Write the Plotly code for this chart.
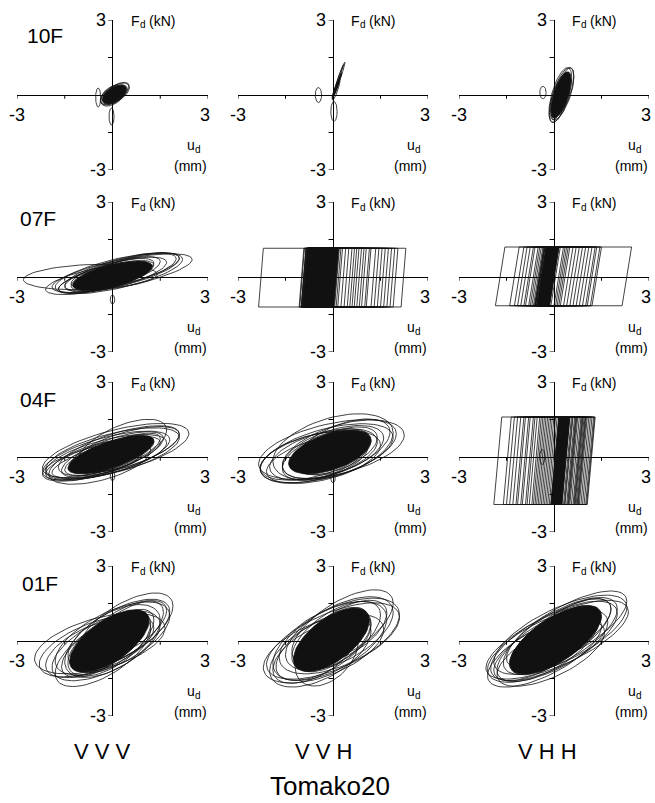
import numpy as np
import plotly.graph_objects as go

# ---------------- labels ----------------
FLOORS = ["10F", "07F", "04F", "01F"]
CASES = ["VVV", "VVH", "VHH"]
TITLE = "Tomako20"
AXIS_MAX = 3
TICK_VALS = [-3, -1.5, 1.5, 3]

# ---------------- data ----------------
# viscous-type loops: (u_center mm, u_amplitude mm, F_center kN, slope kN/mm, half_height kN)
loops_10F_VVV = [(0.08, 0.45, 0.05, 0.55, 0.35), (0.00, 0.38, -0.02, 0.50, 0.38),
                 (0.12, 0.40, 0.12, 0.60, 0.30), (0.05, 0.42, 0.00, 0.55, 0.33),
                 (-0.45, 0.08, -0.10, 0.0, 0.38), (-0.03, 0.08, -0.86, 0.0, 0.34)]
core_10F_VVV = (0.06, 0.38, 0.02, 0.55, 0.32)

loops_10F_VVH = [(0.15, 0.18, 0.55, 3.6, 0.10), (0.12, 0.15, 0.35, 3.4, 0.10),
                 (0.18, 0.20, 0.60, 3.5, 0.14), (0.10, 0.12, 0.20, 3.0, 0.18),
                 (-0.46, 0.10, 0.00, 0.0, 0.30), (0.03, 0.10, -0.66, 0.0, 0.40)]
core_10F_VVH = (0.14, 0.14, 0.40, 3.4, 0.10)

loops_10F_VHH = [(0.25, 0.38, 0.05, 1.80, 0.80), (0.18, 0.33, -0.10, 2.00, 0.75),
                 (0.30, 0.32, 0.15, 1.90, 0.70), (0.20, 0.36, 0.00, 1.90, 0.85),
                 (-0.35, 0.10, 0.10, 0.0, 0.25), (0.00, 0.10, -0.60, 0.0, 0.40)]
core_10F_VHH = (0.22, 0.32, 0.00, 1.90, 0.70)

loops_07F_VVV = [(-0.70, 2.10, 0.00, 0.05, 0.50), (0.30, 2.20, 0.15, 0.25, 0.55),
                 (0.20, 2.00, 0.15, 0.28, 0.60), (0.30, 1.80, 0.20, 0.30, 0.55),
                 (0.10, 1.60, 0.10, 0.30, 0.50), (0.40, 1.70, 0.25, 0.30, 0.50),
                 (-0.20, 1.50, 0.00, 0.32, 0.45), (0.50, 1.50, 0.25, 0.32, 0.50),
                 (0.00, 1.30, 0.10, 0.35, 0.45), (0.30, 1.20, 0.20, 0.35, 0.45),
                 (-0.30, 1.40, -0.05, 0.30, 0.40), (-0.50, 1.60, -0.10, 0.25, 0.45),
                 (0.00, 0.07, -0.90, 0.0, 0.18)]
core_07F_VVV = (0.00, 1.25, 0.05, 0.30, 0.45)

loops_04F_VVV = [(0.10, 2.30, 0.25, 0.30, 0.85), (0.00, 2.10, 0.15, 0.30, 0.80),
                 (-0.20, 1.90, 0.00, 0.30, 0.70), (0.20, 1.90, 0.25, 0.35, 0.75),
                 (-0.30, 1.80, -0.05, 0.35, 0.60), (0.40, 1.70, 0.30, 0.35, 0.70),
                 (0.00, 1.60, 0.10, 0.40, 0.65), (-0.10, 1.40, 0.05, 0.40, 0.55),
                 (0.20, 1.30, 0.15, 0.45, 0.55), (-0.40, 1.50, -0.10, 0.35, 0.50),
                 (0.30, 1.40, 0.45, 0.45, 0.85), (-0.40, 1.60, -0.20, 0.30, 0.75),
                 (-0.60, 1.60, -0.20, 0.30, 0.60), (-0.20, 2.00, 0.05, 0.32, 0.75),
                 (0.00, 0.07, -0.75, 0.0, 0.20)]
core_04F_VVV = (-0.05, 1.35, 0.10, 0.40, 0.55)

loops_04F_VVH = [(-0.05, 2.30, 0.30, 0.25, 1.05), (-0.20, 2.10, 0.15, 0.30, 1.00),
                 (0.00, 1.90, 0.40, 0.30, 1.20), (-0.40, 1.90, 0.00, 0.25, 0.95),
                 (0.20, 1.80, 0.30, 0.35, 1.00), (-0.30, 1.70, 0.10, 0.30, 0.90),
                 (0.00, 1.60, 0.20, 0.35, 0.90), (-0.20, 1.40, 0.10, 0.40, 0.85),
                 (0.10, 1.30, 0.25, 0.40, 0.80), (-0.50, 1.60, -0.10, 0.30, 0.80),
                 (-0.60, 1.70, 0.05, 0.28, 0.85), (0.30, 1.50, 0.40, 0.40, 0.95),
                 (0.00, 0.07, -0.85, 0.0, 0.18)]
core_04F_VVH = (-0.10, 1.30, 0.20, 0.35, 0.75)

loops_01F_VVV = [(-0.40, 2.05, -0.10, 0.30, 1.05), (0.40, 1.50, 0.50, 0.60, 1.10),
                 (-0.30, 1.50, -0.40, 0.60, 1.10), (0.00, 1.80, 0.10, 0.50, 1.15),
                 (0.20, 1.60, 0.30, 0.55, 1.05), (-0.20, 1.70, -0.20, 0.50, 1.10),
                 (-0.60, 1.50, -0.30, 0.45, 0.95), (0.30, 1.30, 0.30, 0.65, 1.00),
                 (-0.10, 1.30, -0.10, 0.60, 1.05), (0.10, 1.20, 0.00, 0.70, 0.95),
                 (-0.40, 1.20, -0.30, 0.60, 0.90), (0.50, 1.20, 0.50, 0.60, 0.85),
                 (0.00, 1.50, 0.00, 0.55, 1.20), (-0.50, 1.80, -0.20, 0.40, 1.00)]
core_01F_VVV = (-0.10, 1.25, 0.00, 0.65, 0.95)

loops_01F_VVH = [(0.00, 2.10, 0.00, 0.45, 1.20), (0.30, 1.60, 0.55, 0.60, 1.15),
                 (-0.40, 1.60, -0.40, 0.50, 1.20), (-0.10, 1.80, 0.00, 0.50, 1.30),
                 (0.20, 1.70, 0.30, 0.50, 1.20), (-0.30, 1.50, -0.20, 0.55, 1.10),
                 (0.10, 1.40, 0.20, 0.60, 1.10), (-0.60, 1.30, -0.50, 0.50, 1.00),
                 (0.40, 1.30, 0.40, 0.55, 1.00), (0.00, 1.20, 0.00, 0.60, 1.00),
                 (-0.20, 1.00, -0.50, 0.50, 1.20), (0.00, 1.10, 0.20, 0.65, 0.90),
                 (0.20, 1.90, 0.20, 0.45, 1.25), (-0.30, 1.90, -0.30, 0.40, 1.15)]
core_01F_VVH = (-0.05, 1.20, 0.05, 0.65, 1.00)

loops_01F_VHH = [(0.10, 2.25, 0.05, 0.50, 1.10), (0.40, 1.90, 0.45, 0.60, 1.05),
                 (-0.30, 1.80, -0.40, 0.55, 1.05), (0.00, 2.00, 0.00, 0.55, 1.15),
                 (0.20, 1.80, 0.20, 0.60, 1.10), (-0.20, 1.60, -0.20, 0.60, 1.05),
                 (0.30, 1.50, 0.30, 0.65, 1.00), (0.00, 1.40, 0.00, 0.65, 1.00),
                 (-0.50, 1.40, -0.40, 0.55, 0.90), (0.50, 1.30, 0.50, 0.60, 0.90),
                 (-0.10, 1.70, -0.50, 0.50, 1.00), (0.10, 1.20, 0.10, 0.70, 0.95),
                 (0.20, 2.10, 0.25, 0.52, 1.15), (-0.20, 1.90, -0.20, 0.50, 1.10)]
core_01F_VHH = (0.05, 1.45, 0.05, 0.65, 1.00)

# friction-type loops: (u_left mm, u_right mm); with top/bottom force and elastic offset
fric_07F_VVH_u = [(-2.35, 2.30), (-1.05, 2.05), (-1.00, 1.85), (-0.95, 1.65),
                  (-0.90, 1.45), (-1.07, 1.20), (-0.92, 1.05), (-0.98, 0.90),
                  (-0.88, 0.75), (-0.95, 0.60), (-0.90, 0.50), (-1.00, 0.40),
                  (-0.85, 0.30), (-0.93, 0.25), (-0.80, 0.20), (-0.90, 0.15),
                  (-1.00, 1.95), (-0.95, 1.75), (-0.90, 1.55), (-0.97, 1.35),
                  (-0.92, 1.15), (-0.88, 0.98), (-0.93, 0.82), (-0.90, 0.68)]
fric_07F_VVH_F = (1.15, -1.20, 0.15)     # F_top, F_bottom, elastic offset (mm)
fric_07F_VVH_core = (-0.88, 0.18)

fric_07F_VHH_u = [(-1.85, 2.45), (-1.15, 1.50), (-0.95, 1.30), (-0.80, 1.10),
                  (-0.60, 0.90), (-0.65, 0.70), (-0.55, 0.50), (-0.60, 0.40),
                  (-0.50, 0.30), (-0.58, 0.20), (-0.52, 0.15),
                  (-1.40, 1.45), (-1.25, 1.35), (-1.05, 1.20), (-0.90, 1.00),
                  (-0.75, 0.80), (-0.70, 0.60), (-0.62, 0.45), (-0.58, 0.35)]
fric_07F_VHH_F = (1.20, -1.15, 0.30)
fric_07F_VHH_core = (-0.55, 0.16)

fric_04F_VHH_u = [(-1.90, 1.30), (-1.50, 1.25), (-1.30, 1.15), (-1.15, 1.05),
                  (-1.00, 1.00), (-0.85, 0.95), (-0.70, 0.90), (-0.60, 0.85),
                  (-0.50, 0.75), (-0.40, 0.70), (-0.30, 0.65), (-0.25, 0.60),
                  (-0.15, 0.55), (-0.10, 0.50),
                  (-1.60, 1.28), (-1.40, 1.20), (-1.20, 1.10), (-1.05, 1.02),
                  (-0.90, 0.98), (-0.78, 0.92), (-0.65, 0.88), (-0.55, 0.80),
                  (-0.45, 0.72), (-0.35, 0.68), (-0.20, 0.58)]
fric_04F_VHH_F = (1.60, -1.90, 0.25)
fric_04F_VHH_core = (-0.10, 0.50)
small_04F_VHH = [(-0.37, 0.08, 0.00, 0.0, 0.30)]

# ---------------- panel geometry (pixels in the 655x803 page) ----------------
W, H = 655, 803
COL_PX = [(17, 208), (238, 428), (459, 649)]
ROW_PX = [(20, 170), (202, 352), (382, 532), (566, 716)]

panels = {
    (0, 0): ("visc", loops_10F_VVV, core_10F_VVV),
    (0, 1): ("visc", loops_10F_VVH, core_10F_VVH),
    (0, 2): ("visc", loops_10F_VHH, core_10F_VHH),
    (1, 0): ("visc", loops_07F_VVV, core_07F_VVV),
    (1, 1): ("fric", fric_07F_VVH_u, fric_07F_VVH_F, fric_07F_VVH_core, []),
    (1, 2): ("fric", fric_07F_VHH_u, fric_07F_VHH_F, fric_07F_VHH_core, []),
    (2, 0): ("visc", loops_04F_VVV, core_04F_VVV),
    (2, 1): ("visc", loops_04F_VVH, core_04F_VVH),
    (2, 2): ("fric", fric_04F_VHH_u, fric_04F_VHH_F, fric_04F_VHH_core, small_04F_VHH),
    (3, 0): ("visc", loops_01F_VVV, core_01F_VVV),
    (3, 1): ("visc", loops_01F_VVH, core_01F_VVH),
    (3, 2): ("visc", loops_01F_VHH, core_01F_VHH),
}

T = np.linspace(0, 2 * np.pi, 73)


def ellipse(p):
    uc, ua, fc, k, h = p
    u = uc + ua * np.cos(T)
    f = fc + k * ua * np.cos(T) + h * np.sin(T)
    return list(u), list(f)


def fric(uL, uR, ft, fb, e):
    return [uL, uL + e, uR, uR - e, uL], [fb, ft, ft, fb, fb]


LINE = dict(color="#111111", width=0.8)
FONT = "Liberation Sans, Arial, sans-serif"

fig = go.Figure()
layout = dict(width=W, height=H, margin=dict(l=0, r=0, t=0, b=0),
              paper_bgcolor="white", plot_bgcolor="white", showlegend=False)
shapes, annotations = [], []

for (r, c), spec in panels.items():
    idx = r * 3 + c + 1
    xa = "x" if idx == 1 else f"x{idx}"
    ya = "y" if idx == 1 else f"y{idx}"
    x0, x1 = COL_PX[c]
    y0, y1 = ROW_PX[r]
    axcommon = dict(range=[-AXIS_MAX, AXIS_MAX], showgrid=False, showticklabels=False,
                    ticks="", showline=False, zeroline=True, zerolinecolor="black",
                    zerolinewidth=1, fixedrange=True)
    layout["xaxis" if idx == 1 else f"xaxis{idx}"] = dict(
        domain=[x0 / W, x1 / W], anchor=ya, **axcommon)
    layout["yaxis" if idx == 1 else f"yaxis{idx}"] = dict(
        domain=[1 - y1 / H, 1 - y0 / H], anchor=xa, **axcommon)

    if spec[0] == "visc":
        _, loops, core = spec
        cu, cf = ellipse(core)
        fig.add_trace(go.Scatter(x=cu, y=cf, xaxis=xa, yaxis=ya, mode="lines",
                                 fill="toself", fillcolor="#111111", line=LINE,
                                 hoverinfo="skip"))
        xs, ys = [], []
        for p in loops:
            u, f = ellipse(p)
            xs += u + [None]
            ys += f + [None]
        fig.add_trace(go.Scatter(x=xs, y=ys, xaxis=xa, yaxis=ya, mode="lines",
                                 line=LINE, hoverinfo="skip"))
    else:
        _, us, (ft, fb, e), (cl, cr), small = spec
        cu, cf = fric(cl, cr, ft, fb, e)
        fig.add_trace(go.Scatter(x=cu, y=cf, xaxis=xa, yaxis=ya, mode="lines",
                                 fill="toself", fillcolor="#111111", line=LINE,
                                 hoverinfo="skip"))
        xs, ys = [], []
        for uL, uR in us:
            u, f = fric(uL, uR, ft, fb, e)
            xs += u + [None]
            ys += f + [None]
        for p in small:
            u, f = ellipse(p)
            xs += u + [None]
            ys += f + [None]
        fig.add_trace(go.Scatter(x=xs, y=ys, xaxis=xa, yaxis=ya, mode="lines",
                                 line=LINE, hoverinfo="skip"))

    # ticks
    for v in TICK_VALS:
        shapes.append(dict(type="line", xref=xa, yref=ya, x0=v, x1=v, y0=0, y1=-0.15,
                           line=dict(color="black", width=1)))
        shapes.append(dict(type="line", xref=xa, yref=ya, x0=0, x1=-0.14, y0=v, y1=v,
                           line=dict(color="black", width=1)))
    tf = dict(family=FONT, size=18, color="black")
    sf = dict(family=FONT, size=14, color="black")
    subf = dict(family=FONT, size=10, color="black")
    common = dict(xref=xa, yref=ya, showarrow=False, yanchor="middle")
    annotations += [
        dict(x=-AXIS_MAX, y=0, text="-3", xanchor="center", yshift=-20, font=tf, **common),
        dict(x=AXIS_MAX, y=0, text="3", xanchor="center", yshift=-20, xshift=-3,
             font=tf, **common),
        dict(x=0, y=AXIS_MAX, text="3", xanchor="right", xshift=-5, font=tf, **common),
        dict(x=0, y=-AXIS_MAX, text="-3", xanchor="right", xshift=-5, font=tf, **common),
        # F_d (kN)
        dict(x=0, y=AXIS_MAX, text="F", xanchor="left", xshift=16, yshift=-1,
             font=sf, **common),
        dict(x=0, y=AXIS_MAX, text="d", xanchor="left", xshift=25, yshift=-5,
             font=subf, **common),
        dict(x=0, y=AXIS_MAX, text="(kN)", xanchor="left", xshift=34, yshift=-1,
             font=sf, **common),
        # u_d (mm)
        dict(x=AXIS_MAX, y=-2.0, text="u", xanchor="left", xshift=-23, font=sf, **common),
        dict(x=AXIS_MAX, y=-2.0, text="d", xanchor="left", xshift=-15, yshift=-4,
             font=subf, **common),
        dict(x=AXIS_MAX, y=-2.84, text="(mm)", xanchor="right", xshift=1,
             font=sf, **common),
    ]

FLOOR_POS = [(25, 36), (18, 219), (18, 399), (20, 583)]
for name, (px, py) in zip(FLOORS, FLOOR_POS):
    annotations.append(dict(x=px / W, y=1 - py / H, xref="paper", yref="paper",
                            text=name, showarrow=False, xanchor="left", yanchor="middle",
                            font=dict(family=FONT, size=21, color="black")))

CASE_X = [102, 323, 547]
for name, px in zip(CASES, CASE_X):
    annotations.append(dict(x=px / W, y=1 - 751 / H, xref="paper", yref="paper",
                            text=" ".join(name), showarrow=False,
                            xanchor="center", yanchor="middle",
                            font=dict(family=FONT, size=22, color="black")))
annotations.append(dict(x=330 / W, y=1 - 786 / H, xref="paper", yref="paper",
                        text=TITLE, showarrow=False, xanchor="center", yanchor="middle",
                        font=dict(family=FONT, size=26, color="black")))

layout["shapes"] = shapes
layout["annotations"] = annotations
fig.update_layout(**layout)
fig.write_html("out.html", config={"displayModeBar": False},
               post_script="document.body.style.margin='0px';"
                           "document.body.style.overflow='hidden';")
